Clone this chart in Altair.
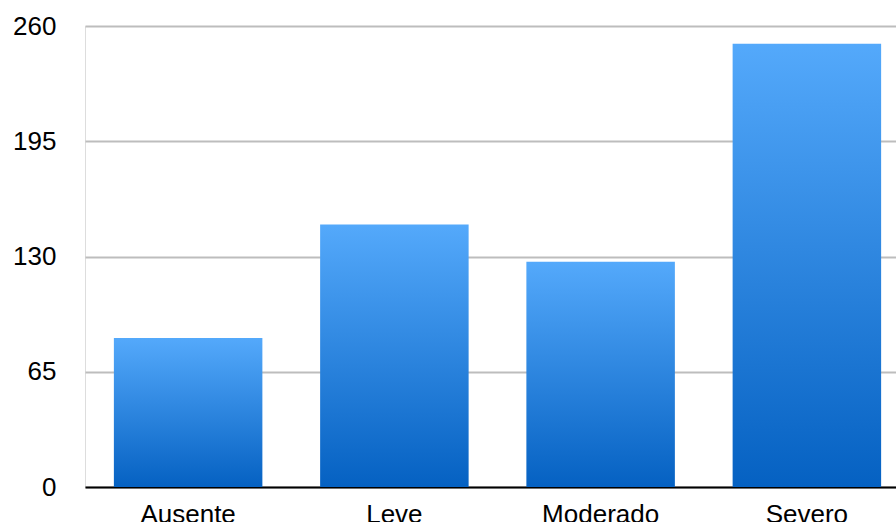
import altair as alt
import pandas as pd

categories = ["Ausente", "Leve", "Moderado", "Severo"]
values = [84, 148, 127, 250]
y_ticks = [0, 65, 130, 195, 260]

df = pd.DataFrame({"categoria": categories, "valor": values})

gradient = alt.Gradient(
    gradient="linear",
    stops=[
        alt.GradientStop(color="#54a9fb", offset=0),
        alt.GradientStop(color="#0561c2", offset=1),
    ],
    x1=0, x2=0, y1=0, y2=1,
)

chart = (
    alt.Chart(df)
    .mark_bar(color=gradient)
    .encode(
        x=alt.X(
            "categoria:N",
            sort=categories,
            title=None,
            # the category band runs past the right edge of the view
            scale=alt.Scale(paddingInner=0.28, paddingOuter=0.14, range=[0, 825]),
            axis=alt.Axis(
                labelAngle=0,
                labelFont="Liberation Sans",
                labelFontSize=26,
                labelColor="#000000",
                labelPadding=14,
                ticks=False,
                domainColor="#000000",
                domainWidth=2,
            ),
        ),
        y=alt.Y(
            "valor:Q",
            title=None,
            scale=alt.Scale(domain=[0, 260], nice=False),
            axis=alt.Axis(
                values=y_ticks,
                labelFont="Liberation Sans",
                labelFontSize=26,
                labelColor="#000000",
                labelPadding=29,
                ticks=False,
                domain=False,
                gridColor="#bdbdbd",
                gridWidth=2,
            ),
        ),
    )
    .properties(
        width=811,
        height=461,
        autosize=alt.AutoSizeParams(type="none"),
        padding={"left": 85, "top": 26, "right": 0, "bottom": 35},
    )
    .configure_view(stroke=None)
    .configure(background="#ffffff")
)

chart.save("out.html", embed_options={"renderer": "svg", "actions": False})
